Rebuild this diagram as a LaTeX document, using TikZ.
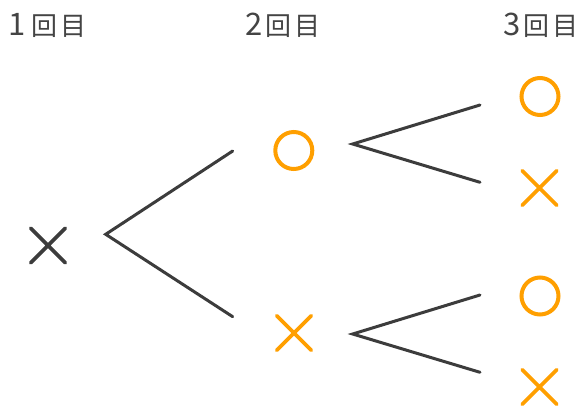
\documentclass[tikz,border=0pt]{standalone}
\usepackage{fontspec}
\newfontfamily\jpfont{Noto Sans CJK JP}
\usetikzlibrary{shapes.misc}
\definecolor{tor}{RGB}{255,159,0}
\definecolor{tdark}{RGB}{60,60,60}
\definecolor{ttext}{RGB}{68,68,68}
\newcommand{\dg}[1]{{\fontsize{31}{32}\selectfont #1}}
\begin{document}
\begin{tikzpicture}[x=1pt,y=-1pt,
  maru/.style={circle,draw=tor,line width=4pt,minimum size=37pt,inner sep=0pt},
  batsu/.style={cross out,draw=#1,line width=3.6pt,line cap=round,minimum size=31pt,inner sep=0pt},
  branch/.style={draw=tdark,line width=3pt,line cap=round},
  head/.style={text=ttext,font=\jpfont\fontsize{26}{30}\selectfont,inner sep=0pt}]
\useasboundingbox (0,0) rectangle (579,405);
% headers
\node[head,anchor=base west] (h1) at (8,35) {\dg{1}\hspace{6pt}回\hspace{3pt}目};
\node[head,anchor=base west] (h2) at (245.5,35) {\dg{2}\hspace{3pt}回\hspace{3pt}目};
\node[head,anchor=base west] (h3) at (503,35) {\dg{3}\hspace{3pt}回\hspace{3pt}目};
% symbols
\node[batsu=tdark] (r) at (48,245.5) {};
\node[maru] (a) at (293.8,150.5) {};
\node[batsu=tor] (b) at (294,333) {};
\node[maru] (a1) at (540,96.5) {};
\node[batsu=tor] (a2) at (539.5,188) {};
\node[maru] (b1) at (540,296) {};
\node[batsu=tor] (b2) at (539.5,387) {};
% branch points
\coordinate (v0) at (105.7,234.3);
\coordinate (e0a) at (232.7,151);
\coordinate (e0b) at (232.7,316.7);
\coordinate (v1) at (352.7,144);
\coordinate (e1a) at (480,105);
\coordinate (e1b) at (480,182.3);
\coordinate (v2) at (352.7,334);
\coordinate (e2a) at (480,295);
\coordinate (e2b) at (480,372.3);
\draw[branch] (e0a) -- (v0) -- (e0b);
\draw[branch] (e1a) -- (v1) -- (e1b);
\draw[branch] (e2a) -- (v2) -- (e2b);
\end{tikzpicture}
\end{document}
